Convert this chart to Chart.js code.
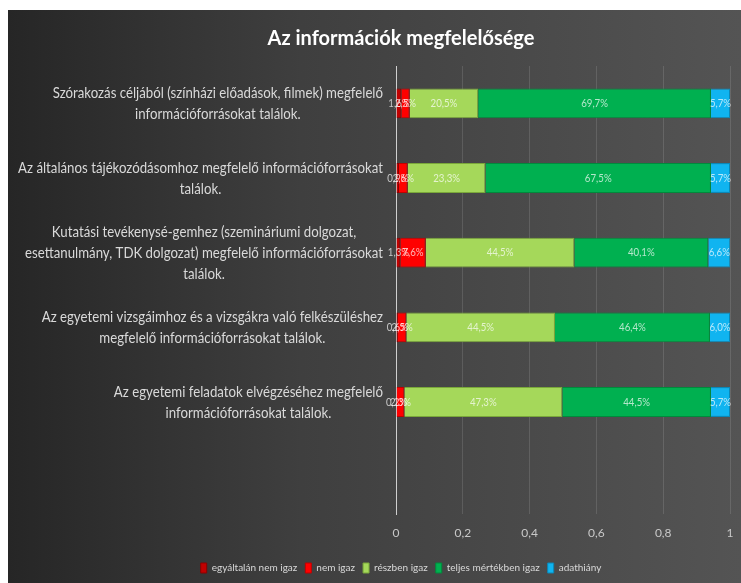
<!DOCTYPE html>
<html>
<head>
<meta charset="utf-8">
<script src="https://cdn.jsdelivr.net/npm/chart.js@4/dist/chart.umd.min.js"></script>
<style>
  html, body { margin: 0; padding: 0; background: #fff; overflow: hidden; }
  #wrap {
    position: absolute; left: 8px; top: 10px; width: 733px; height: 573px;
    background: linear-gradient(to right, #262626 0%, #3f3f3f 40%, #545454 100%);
  }
</style>
</head>
<body>
<div id="wrap"><canvas id="chart"></canvas></div>
<script>
  // kérdések (utolsó sor üres)
  const kerdesek = [
    ['Szórakozás céljából (színházi előadások, filmek) megfelelő', 'információforrásokat találok.'],
    ['Az általános tájékozódásomhoz megfelelő információforrásokat', 'találok.'],
    ['Kutatási tevékenysé-gemhez (szemináriumi dolgozat,', 'esettanulmány, TDK dolgozat) megfelelő információforrásokat', 'találok.'],
    ['Az egyetemi vizsgáimhoz és a vizsgákra való felkészüléshez', 'megfelelő információforrásokat találok.'],
    ['Az egyetemi feladatok elvégzéséhez megfelelő', 'információforrásokat találok.'],
    ''
  ];

  const egyaltalanNem = [0.016, 0.009, 0.013, 0.006, 0.002];
  const nemIgaz       = [0.025, 0.026, 0.076, 0.025, 0.023];
  const reszben       = [0.205, 0.233, 0.445, 0.445, 0.473];
  const teljes        = [0.697, 0.675, 0.401, 0.464, 0.445];
  const adathiany     = [0.057, 0.057, 0.066, 0.060, 0.057];

  const xTicks = [0, 0.2, 0.4, 0.6, 0.8, 1];

  const FONT = "Lato, 'Open Sans', sans-serif";

  // százalék felirat a sávok közepére
  const barLabels = {
    id: 'barLabels',
    afterDatasetsDraw(chart) {
      const ctx = chart.ctx;
      ctx.save();
      ctx.font = '11px ' + FONT;
      ctx.fillStyle = 'rgba(255,255,255,0.7)';
      ctx.textAlign = 'center';
      ctx.textBaseline = 'middle';
      chart.data.datasets.forEach((ds, i) => {
        chart.getDatasetMeta(i).data.forEach((bar, j) => {
          const v = ds.data[j];
          if (v == null) return;
          const txt = (v * 100).toFixed(1).replace('.', ',') + '%';
          const cx = (bar.x + bar.base) / 2;
          ctx.save();
          ctx.translate(cx, bar.y);
          ctx.scale(0.88, 1);
          ctx.fillText(txt, 0, 0);
          ctx.restore();
        });
      });
      ctx.restore();
    }
  };

  // kategória feliratok: soronként középre, a blokk jobbra igazítva, keskenyített betűvel
  const catLabels = {
    id: 'catLabels',
    afterDraw(chart) {
      const ctx = chart.ctx;
      const y = chart.scales.y;
      const right = chart.scales.x.left - 13;
      const lh = 21;
      ctx.save();
      ctx.font = '16px ' + FONT;
      ctx.fillStyle = '#d9d9d9';
      ctx.textAlign = 'center';
      ctx.textBaseline = 'middle';
      const sx = 358 / ctx.measureText(kerdesek[2][1]).width;
      kerdesek.forEach((lab, i) => {
        const lines = Array.isArray(lab) ? lab : [lab];
        const w = Math.max(...lines.map(l => ctx.measureText(l).width)) * sx;
        const cx = right - w / 2;
        const cy = y.getPixelForValue(i);
        lines.forEach((l, k) => {
          ctx.save();
          ctx.translate(cx, cy + (k - (lines.length - 1) / 2) * lh);
          ctx.scale(sx, 1);
          ctx.fillText(l, 0, 0);
          ctx.restore();
        });
      });
      ctx.restore();
    }
  };

  const sets = [
    { label: 'egyáltalán nem igaz', data: egyaltalanNem, backgroundColor: '#c00000', borderColor: '#8a0000' },
    { label: 'nem igaz', data: nemIgaz, backgroundColor: '#ff0000', borderColor: '#c00000' },
    { label: 'részben igaz', data: reszben, backgroundColor: '#a5d85a', borderColor: '#7aa83a' },
    { label: 'teljes mértékben igaz', data: teljes, backgroundColor: '#00b050', borderColor: '#008a3c' },
    { label: 'adathiány', data: adathiany, backgroundColor: '#10b4f0', borderColor: '#0a88b8' }
  ];
  sets.forEach(s => { s.borderWidth = 1; s.barPercentage = 0.4; s.categoryPercentage = 1; });

  new Chart(document.getElementById('chart'), {
    type: 'bar',
    data: { labels: kerdesek, datasets: sets },
    options: {
      indexAxis: 'y',
      responsive: true,
      maintainAspectRatio: false,
      animation: false,
      layout: { padding: { left: 64, right: 11, top: 0, bottom: 0 } },
      scales: {
        x: {
          stacked: true,
          min: 0, max: 1,
          afterBuildTicks(scale) { scale.ticks = xTicks.map(v => ({ value: v })); },
          grid: { color: 'rgba(255,255,255,0.12)', tickLength: 12, tickColor: 'rgba(0,0,0,0)' },
          border: { display: false },
          ticks: {
            color: '#c8c8c8',
            padding: 0,
            font: { family: FONT, size: 12 },
            callback: v => String(Math.round(v * 10) / 10).replace('.', ',')
          },
          afterFit(scale) { scale.height = 41; }
        },
        y: {
          stacked: true,
          grid: { display: false },
          border: { color: '#cfcfcf', width: 1 },
          ticks: { display: false },
          afterFit(scale) { scale.width = 324; }
        }
      },
      plugins: {
        title: {
          display: true,
          text: 'Az információk megfelelősége',
          color: '#ffffff',
          font: { family: FONT, size: 20, weight: 'bold' },
          padding: { top: 17, bottom: 15 }
        },
        legend: {
          position: 'bottom',
          labels: {
            color: '#d9d9d9',
            boxWidth: 6,
            boxHeight: 10,
            padding: 8,
            font: { family: FONT, size: 10 }
          }
        },
        tooltip: { enabled: false }
      }
    },
    plugins: [barLabels, catLabels]
  });
</script>
</body>
</html>
